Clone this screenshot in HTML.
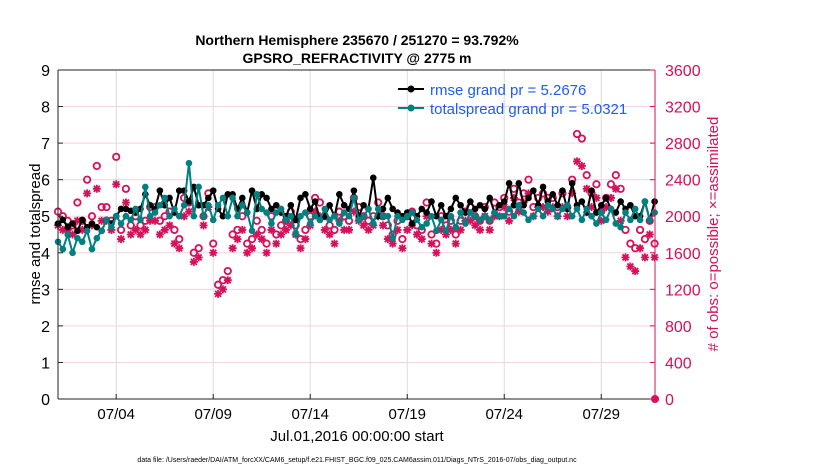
<!DOCTYPE html>
<html><head><meta charset="utf-8"><style>
body{margin:0;background:#fff;width:830px;height:470px;overflow:hidden;font-family:"Liberation Sans",sans-serif}
svg text{font-family:"Liberation Sans",sans-serif}
</style></head><body>
<svg id="chart" width="830" height="470" xmlns="http://www.w3.org/2000/svg">
<rect width="830" height="470" fill="#fff"/>
<g id="grid"></g>
<g id="series"></g>
<g id="axes"></g>
<text x="357" y="45" text-anchor="middle" font-size="14" font-weight="bold">Northern Hemisphere 235670 / 251270 = 93.792%</text>
<text x="357" y="63" text-anchor="middle" font-size="14" font-weight="bold">GPSRO_REFRACTIVITY @ 2775 m</text>
<text transform="translate(40,234) rotate(-90)" text-anchor="middle" font-size="15">rmse and totalspread</text>
<text transform="translate(718,234) rotate(-90)" text-anchor="middle" font-size="15" fill="#d6105a"># of obs: o=possible; ×=assimilated</text>
<text x="357" y="441" text-anchor="middle" font-size="15">Jul.01,2016 00:00:00 start</text>
<text x="357" y="462" text-anchor="middle" font-size="7">data file: /Users/raeder/DAI/ATM_forcXX/CAM6_setup/f.e21.FHIST_BGC.f09_025.CAM6assim.011/Diags_NTrS_2016-07/obs_diag_output.nc</text>
<g>
<line x1="398" y1="89" x2="424" y2="89" stroke="#000" stroke-width="2"/><circle cx="411" cy="89" r="3.5" fill="#000"/>
<text x="430" y="95" font-size="15" fill="#1f5cf0">rmse grand pr = 5.2676</text>
<line x1="398" y1="108" x2="424" y2="108" stroke="#008080" stroke-width="2"/><circle cx="411" cy="108" r="3.5" fill="#008080"/>
<text x="430" y="114" font-size="15" fill="#1f5cf0">totalspread grand pr = 5.0321</text>
</g>
</svg>
<script>
const rmse=[4.8,4.9,4.7,4.8, 4.6,4.9,4.7,4.8, 4.7,4.6,4.9,4.8, 5.0,5.2,5.2,5.15, 5.1,5.2,5.6,5.3, 5.2,5.7,5.3,5.5, 5.1,5.7,5.7,5.4, 5.8,5.3,5.3,5.5, 5.7,5.2,5.0,5.6, 5.6,5.2,5.5,5.1, 5.7,5.2,5.6,5.5, 5.2,5.3,5.1,5.0, 5.3,4.9,5.5,5.6, 5.2,5.4,4.9,5.0, 5.3,5.0,5.6,5.3, 5.2,5.7,5.0,5.3, 5.2,6.05,5.0,5.2, 5.5,5.2,5.1,5.0, 5.1,4.8,5.0,5.2, 5.1,5.4,5.0,5.3, 5.0,5.2,5.5,5.3, 5.1,5.4,5.2,5.3, 5.2,5.5,5.1,5.3, 5.4,5.9,5.3,5.9, 5.3,5.5,5.7,5.3, 5.8,5.4,5.6,5.3, 5.7,5.2,5.9,5.3, 5.4,5.1,5.7,5.1, 5.3,5.5,5.2,5.1, 5.4,5.2,5.3,5.0, 5.0,5.4,4.9,5.4];
const spread=[4.3,4.1,4.5,4.0, 4.4,4.3,4.6,4.1, 4.4,4.6,4.9,4.7, 5.0,4.8,5.0,4.9, 5.2,4.9,5.8,5.0, 5.1,5.3,5.5,5.0, 5.2,5.0,5.3,6.45, 5.0,5.8,5.0,5.3, 4.9,5.3,5.5,5.0, 5.5,5.0,5.3,5.1, 4.6,5.6,5.2,5.1, 4.8,5.1,5.2,4.9, 5.0,4.5,5.0,5.1, 4.8,5.0,4.9,5.2, 4.9,5.0,4.8,5.1, 5.0,5.5,4.9,5.0, 5.2,4.8,5.2,5.0, 5.0,4.4,5.0,4.9, 5.0,5.1,4.9,4.7, 4.8,5.0,4.6,4.9, 4.6,5.0,4.7,5.1, 4.8,5.1,5.0,4.9, 5.0,4.9,5.1,5.0, 5.0,5.2,5.0,5.3, 5.1,4.9,5.0,5.2, 5.0,5.3,5.2,5.0, 5.2,5.3,5.0,5.2, 4.9,5.2,5.0,4.8, 5.1,4.9,5.2,4.8, 4.7,5.1,4.9,5.2, 4.9,5.4,4.9,5.1];
const possible=[2050,2000,1950,1900, 2150,1950,2400,2000, 2550,2100,2100,1950, 2650,1850,2300,1900, 2000,1900,1950,2100, 2100,1950,2000,2050, 1850,1750,2200,2150, 1600,1650,2000,2250, 1700,1250,1300,1400, 1800,1850,2000,1700, 1750,1950,1850,1700, 2000,1800,1900,1950, 2050,1900,1750,1850, 2000,2200,2150,2000, 1900,1850,2050,2000, 1950,2200,2100,2000, 1950,2000,2150,2000, 1900,1800,1950,1750, 2000,2050,1900,1850, 2150,1800,1700,2000, 1900,1950,1800,1950, 2050,2100,2000,1950, 2100,1950,2150,2100, 2200,2050,2300,2150, 2250,2400,2100,2200, 2250,2200,2200,2100, 2250,2100,2400,2900, 2850,2450,2250,2350, 2050,2200,2350,2450, 2300,1850,1700,1650, 1850,1750,1950,1700];
const assimilated=[1900,1850,1850,1800, 1950,1850,2250,1900, 2300,1950,1950,1850, 2350,1750,2150,1800, 1850,1800,1850,1950, 1950,1800,1850,1900, 1700,1650,2000,2050, 1500,1550,1900,2100, 1600,1150,1200,1300, 1650,1750,1850,1600, 1650,1800,1750,1600, 1850,1700,1800,1850, 1900,1800,1650,1750, 1900,2050,2000,1850, 1800,1700,1950,1850, 1850,2050,1950,1900, 1850,1900,2000,1900, 1750,1700,1850,1650, 1850,1900,1800,1750, 2000,1700,1600,1850, 1800,1850,1700,1850, 1950,1950,1900,1850, 2000,1850,2000,2000, 2100,1950,2200,2050, 2150,2250,2000,2100, 2100,2050,2100,2000, 2100,2000,2250,2600, 2550,2300,2100,2200, 1950,2100,2200,2300, 1950,1550,1450,1400, 1650,1550,1800,1550];
const xTickLabels=["07/04","07/09","07/14","07/19","07/24","07/29"];
const xTickDays=[3,8,13,18,23,28];
const yTicks=[0,1,2,3,4,5,6,7,8,9];
const y2Ticks=[0,400,800,1200,1600,2000,2400,2800,3200,3600];
const stepDays=0.25;

const NS="http://www.w3.org/2000/svg";
const L=58,R=655,T=70,B=399,XMAX=30.77;
const xs=d=>L+d/XMAX*(R-L);
const ys=v=>B-v/9*(B-T);
const y2s=v=>B-v/3600*(B-T);
function mk(tag,attrs,parent){const e=document.createElementNS(NS,tag);for(const k in attrs)e.setAttribute(k,attrs[k]);parent.appendChild(e);return e;}
const grid=document.getElementById('grid'),ser=document.getElementById('series'),ax=document.getElementById('axes');
mk('rect',{x:L,y:T,width:R-L,height:B-T,fill:'#fff'},grid);
yTicks.forEach(v=>{if(v>0&&v<9){const l=mk('line',{x1:L,x2:R,y1:ys(v),y2:ys(v),stroke:'#f3d3df','stroke-width':1},grid);

}});
xTickDays.forEach(d=>{const l=mk('line',{x1:xs(d),x2:xs(d),y1:T,y2:B,stroke:'#dcdcdc','stroke-width':1},grid);

});
// axes
mk('line',{x1:L,x2:L,y1:T,y2:B,stroke:'#222','stroke-width':1},ax);
mk('line',{x1:L,x2:R,y1:B,y2:B,stroke:'#222','stroke-width':1},ax);
mk('line',{x1:L,x2:R,y1:T,y2:T,stroke:'#222','stroke-width':1},ax);
mk('line',{x1:R,x2:R,y1:T,y2:B,stroke:'#d6105a','stroke-width':1},ax);
yTicks.forEach(v=>{mk('line',{x1:L,x2:L+5,y1:ys(v),y2:ys(v),stroke:'#222'},ax);
const t=mk('text',{x:L-8,y:ys(v)+6,'text-anchor':'end','font-size':16},ax);t.textContent=v;

});
y2Ticks.forEach(v=>{mk('line',{x1:R-5,x2:R,y1:y2s(v),y2:y2s(v),stroke:'#d6105a'},ax);
const t=mk('text',{x:R+10,y:y2s(v)+6,'font-size':16,fill:'#d6105a'},ax);t.textContent=v;

});
xTickDays.forEach((d,i)=>{mk('line',{x1:xs(d),x2:xs(d),y1:B-5,y2:B,stroke:'#222'},ax);
const t=mk('text',{x:xs(d),y:B+20,'text-anchor':'middle','font-size':15},ax);t.textContent=xTickLabels[i];

});
// counts
const red='#d6105a';
possible.forEach((v,i)=>{const c=mk('circle',{cx:xs(i*stepDays),cy:y2s(v),r:3.2,fill:'none',stroke:red,'stroke-width':1.8},ser);

});
assimilated.forEach((v,i)=>{const x=xs(i*stepDays),y=y2s(v);
const g=mk('path',{d:`M${x-4},${y}H${x+4}M${x},${y-4}V${y+4}M${x-3},${y-3}L${x+3},${y+3}M${x-3},${y+3}L${x+3},${y-3}`,stroke:red,'stroke-width':1.8},ser);

});
function line(arr,color,name){
const p=mk('polyline',{points:arr.map((v,i)=>xs(i*stepDays)+','+ys(v)).join(' '),fill:'none',stroke:color,'stroke-width':2},ser);


arr.forEach((v,i)=>{const c=mk('circle',{cx:xs(i*stepDays),cy:ys(v),r:3.3,fill:color},ser);

});}
line(rmse,'#000','rmse');
line(spread,'#008080','totalspread');
const z=mk('circle',{cx:R,cy:B,r:4,fill:red},ser);


</script>
</body></html>
